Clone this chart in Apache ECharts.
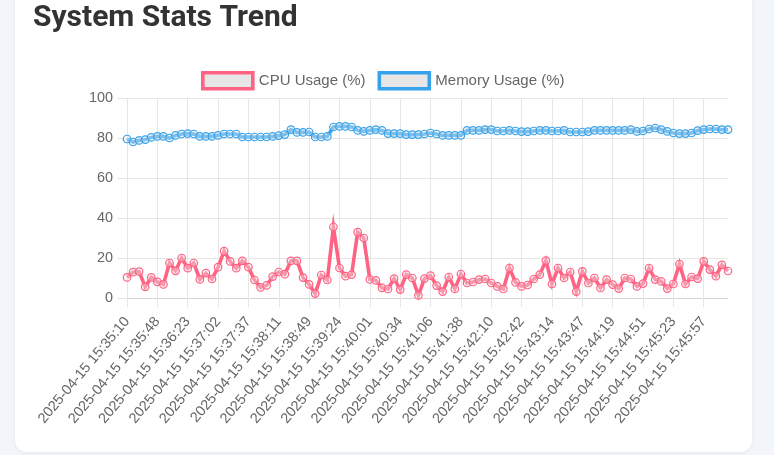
<!DOCTYPE html>
<html><head><meta charset="utf-8">
<script src="https://cdn.jsdelivr.net/npm/echarts@6/dist/echarts.min.js"></script>
<style>
html,body{margin:0;padding:0;width:774px;height:455px;background:#f2f5f9;overflow:hidden;}
#card{position:absolute;left:15px;top:-40px;width:737px;height:492px;background:#fff;border-radius:12px;box-shadow:0 1px 4px rgba(0,0,0,0.06);}
#chart{position:absolute;left:0;top:0;width:774px;height:455px;}
</style></head><body><div id="card"></div><div id="chart"></div>
<script>
const titleText = 'System Stats Trend';
const seriesNames = ['CPU Usage (%)', 'Memory Usage (%)'];
const tickLabels = ['2025-04-15 15:35:10','2025-04-15 15:35:48','2025-04-15 15:36:23','2025-04-15 15:37:02','2025-04-15 15:37:37',
  '2025-04-15 15:38:11','2025-04-15 15:38:49','2025-04-15 15:39:24','2025-04-15 15:40:01','2025-04-15 15:40:34',
  '2025-04-15 15:41:06','2025-04-15 15:41:38','2025-04-15 15:42:10','2025-04-15 15:42:42','2025-04-15 15:43:14',
  '2025-04-15 15:43:47','2025-04-15 15:44:19','2025-04-15 15:44:51','2025-04-15 15:45:23','2025-04-15 15:45:57'];
const cpuUsage = [10.3,12.9,13.2,5.6,10.3,8.1,6.8,17.5,13.6,20,
  14.9,17.5,9.3,12.4,9.5,15.4,23.4,18.3,14.9,18.6,
  15.4,9,5.3,6.3,10.7,13,11.9,18.6,18.6,10.2,
  6.8,2.2,11.5,9,35.5,15,10.9,11.7,32.9,30,
  9.3,8.8,5.1,4.5,9.7,4.2,11.7,10,1.3,9.7,
  11.2,6.2,3.2,10.5,4.5,12,7.5,8,9.2,9.5,
  7.5,5.8,4.5,15,7.8,5.8,6.5,9.5,11.7,18.7,
  7,15,10,13,3.2,13.3,7.5,10,5,9.2,
  6.7,4.7,10,9.5,5.8,7.2,15,9.2,8.3,4.7,
  7,17,7,10.5,9.7,18.3,14.2,10.9,16.6,13.5];
const memoryUsage = [79.5,78,78.8,79.2,80.3,80.8,80.8,80,81.3,82,
  82.2,82,80.8,80.8,80.8,81.3,82,82,82,80.5,
  80.5,80.5,80.5,80.5,80.8,81.2,81.7,84.2,82.8,82.8,
  83,80.5,80.5,80.8,85.5,85.8,85.8,85.5,83.8,83.3,
  83.8,84.2,83.8,82.2,82.2,82.2,81.7,81.7,81.7,82,
  82.5,82,81.3,81.3,81.3,81.3,83.8,83.8,83.8,84.2,
  84.2,83.5,83.5,83.8,83.5,83.2,83.2,83.5,83.8,83.8,
  83.5,83.5,83.8,83,83,83,83.2,83.8,83.8,83.8,
  83.8,83.8,83.8,84.2,83.3,83.5,84.5,85,84.2,83.3,
  82.5,82.2,82.2,82.5,83.7,84.2,84.5,84.5,84.2,84.2];
const labelStep = 5;
const categories = cpuUsage.map((_, i) => i % labelStep === 0 ? tickLabels[i / labelStep] : tickLabels[Math.floor(i / labelStep)] + ' +' + (i % labelStep));

const FONT = '"Liberation Sans", Arial, Helvetica, sans-serif';
const GRID = '#e6e6e6';
const chart = echarts.init(document.getElementById('chart'), null, {renderer: 'canvas'});
function lineSeries(name, data, color) {
  return {
    name, type: 'line', data, smooth: false, symbol: 'circle', symbolSize: 7.5,
    showSymbol: true, showAllSymbol: true,
    lineStyle: {color, width: 3.6, join: 'miter', miterLimit: 10},
    itemStyle: {color: 'rgba(235,235,235,0.4)', borderColor: color, borderWidth: 1.2},
    emphasis: {disabled: true}, animation: false
  };
}
chart.setOption({
  animation: false,
  title: {text: titleText, left: 28, top: -2,
    textStyle: {fontFamily: 'Roboto, "Open Sans", sans-serif', fontWeight: 'bold', fontSize: 30, color: '#333'}},
  legend: {
    left: 201, top: 71, padding: 0, itemGap: 12, itemWidth: 50, itemHeight: 16,
    textStyle: {fontFamily: FONT, fontSize: 15, color: '#666', padding: [0, 0, 0, 1]},
    data: [
      {name: seriesNames[0], icon: 'rect', itemStyle: {color: GRID, borderColor: '#ff6384', borderWidth: 3.6}},
      {name: seriesNames[1], icon: 'rect', itemStyle: {color: GRID, borderColor: '#36a2eb', borderWidth: 3.6}}
    ]
  },
  grid: {left: 127, right: 46, top: 98, bottom: 157, containLabel: false},
  xAxis: {
    type: 'category', data: categories, boundaryGap: false,
    axisLine: {show: true, lineStyle: {color: '#d4d4d4', width: 1}},
    axisTick: {show: true, interval: labelStep - 1, length: 9, lineStyle: {color: GRID}},
    axisLabel: {interval: labelStep - 1, rotate: 50, margin: 21, align: 'right', verticalAlign: 'middle',
      color: '#666', fontSize: 14.4, fontFamily: FONT},
    splitLine: {show: true, interval: labelStep - 1, lineStyle: {color: GRID, width: 1}}
  },
  yAxis: {
    type: 'value', min: 0, max: 100, interval: 20,
    axisLine: {show: true, lineStyle: {color: GRID}},
    axisTick: {show: true, length: 10, lineStyle: {color: GRID}},
    axisLabel: {margin: 14, color: '#666', fontSize: 14.4, fontFamily: FONT},
    splitLine: {show: true, lineStyle: {color: GRID, width: 1}}
  },
  series: [lineSeries(seriesNames[0], cpuUsage, '#ff6384'), lineSeries(seriesNames[1], memoryUsage, '#36a2eb')]
});
</script></body></html>
